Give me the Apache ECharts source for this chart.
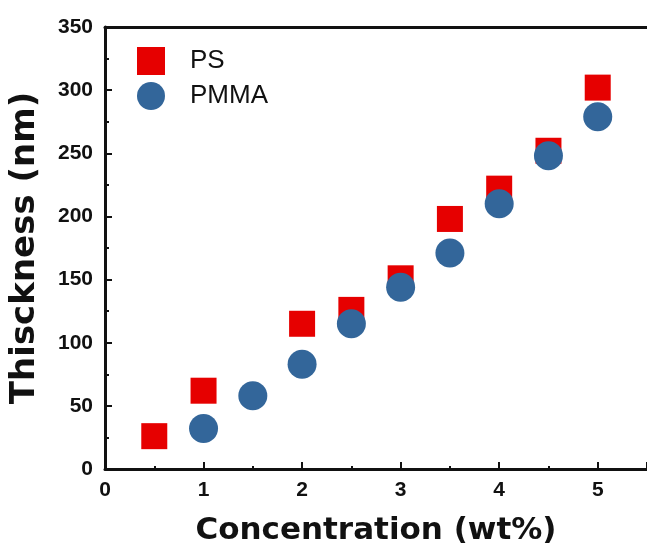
<!DOCTYPE html>
<html>
<head>
<meta charset="utf-8">
<script src="https://cdn.jsdelivr.net/npm/echarts@6/dist/echarts.min.js"></script>
<style>
  html, body { margin: 0; padding: 0; background: #fff; }
  #main { width: 647px; height: 554px; }
</style>
</head>
<body>
<div id="main"></div>
<script>
// concentration (wt%) and film thickness (nm)
var psConc = [0.5, 1, 2, 2.5, 3, 3.5, 4, 4.5, 5];
var psThick = [26, 62, 115, 126, 151, 198, 222, 252, 302];
var pmmaConc = [1, 1.5, 2, 2.5, 3, 3.5, 4, 4.5, 5];
var pmmaThick = [32, 58, 83, 115, 144, 171, 210, 248, 279];

function pairs(xs, ys) {
  return xs.map(function (x, i) { return [x, ys[i]]; });
}

var chart = echarts.init(document.getElementById('main'), null, { renderer: 'canvas' });

var titleFont = 'DejaVu Sans';
var labelFont = 'Liberation Sans';

var option = {
  backgroundColor: '#fff',
  animation: false,
  grid: {
    left: 105,
    top: 27,
    right: -6,
    bottom: 85
  },
  legend: {
    orient: 'vertical',
    left: 132,
    top: 42,
    itemWidth: 28,
    itemHeight: 28,
    itemGap: 7,
    data: [
      { name: 'PS', icon: 'rect' },
      { name: 'PMMA', icon: 'circle' }
    ],
    textStyle: {
      fontFamily: labelFont,
      fontSize: 26,
      color: '#111',
      lineHeight: 28,
      padding: [0, 0, 0, 20]
    }
  },
  xAxis: [{
    type: 'value',
    min: 0,
    max: 5.5,
    interval: 1,
    name: 'Concentration (wt%)',
    nameLocation: 'middle',
    nameGap: 46,
    nameTextStyle: {
      fontFamily: titleFont,
      fontWeight: 'bold',
      fontSize: 31,
      color: '#111'
    },
    axisLine: { lineStyle: { color: '#111', width: 3 } },
    axisTick: { inside: true, length: 7, lineStyle: { color: '#111', width: 2 } },
    minorTick: { show: true, splitNumber: 2, length: 3, lineStyle: { color: '#111', width: 2 } },
    axisLabel: {
      showMaxLabel: false,
      margin: 11,
      fontFamily: labelFont,
      fontWeight: 'bold',
      fontSize: 21,
      color: '#111'
    },
    splitLine: { show: false }
  }, {
    type: 'value',
    position: 'top',
    min: 0,
    max: 5.5,
    axisLine: { show: true, onZero: false, lineStyle: { color: '#111', width: 3 } },
    axisTick: { show: false },
    axisLabel: { show: false },
    splitLine: { show: false }
  }],
  yAxis: {
    type: 'value',
    min: 0,
    max: 350,
    interval: 50,
    name: 'Thisckness (nm)',
    nameLocation: 'middle',
    nameGap: 63,
    nameTextStyle: {
      fontFamily: titleFont,
      fontWeight: 'bold',
      fontSize: 34,
      color: '#111'
    },
    axisLine: { show: true, lineStyle: { color: '#111', width: 3 } },
    axisTick: { inside: true, length: 7, lineStyle: { color: '#111', width: 2 } },
    minorTick: { show: true, splitNumber: 2, length: 4, lineStyle: { color: '#111', width: 2 } },
    axisLabel: {
      margin: 12,
      fontFamily: labelFont,
      fontWeight: 'bold',
      fontSize: 21,
      color: '#111'
    },
    splitLine: { show: false }
  },
  series: [{
    name: 'PS',
    type: 'scatter',
    symbol: 'rect',
    symbolSize: 26,
    itemStyle: { color: '#e60000', opacity: 1 },
    data: pairs(psConc, psThick)
  }, {
    name: 'PMMA',
    type: 'scatter',
    symbol: 'circle',
    symbolSize: 29,
    itemStyle: { color: '#33669a', opacity: 1 },
    data: pairs(pmmaConc, pmmaThick)
  }]
};

chart.setOption(option);
</script>
</body>
</html>
